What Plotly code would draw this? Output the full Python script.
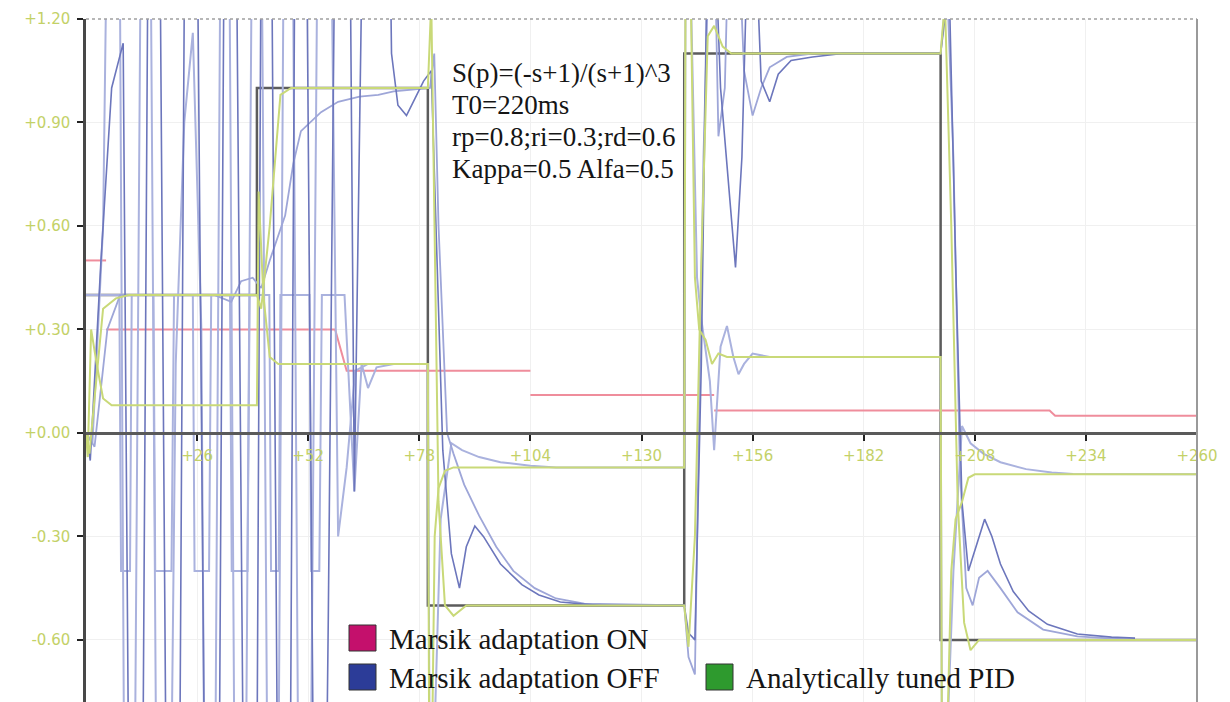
import plotly.graph_objects as go

# ---------------- data ----------------
tick_x = [26, 52, 78, 104, 130, 156, 182, 208, 234, 260]
tick_x_text = ["+26", "+52", "+78", "+104", "+130", "+156", "+182", "+208", "+234", "+260"]
tick_y = [1.2, 0.9, 0.6, 0.3, 0.0, -0.3, -0.6]
tick_y_text = ["+1.20", "+0.90", "+0.60", "+0.30", "+0.00", "-0.30", "-0.60"]

# set point w
w_x = [0, 40, 40, 80, 80, 140, 140, 200, 200, 260]
w_y = [0.4, 0.4, 1.0, 1.0, -0.5, -0.5, 1.1, 1.1, -0.6, -0.6]

# analytically tuned PID - output
pid_y_x = [0, 0.8, 2, 4, 7, 10, 40, 41, 43, 45.5, 48, 80, 80.8, 81.5, 82.5, 84, 86, 89,
           140, 141, 142.5, 144, 145.5, 147, 149, 151, 200, 201, 202.5, 204, 205.5, 207, 209, 260]
pid_y_y = [0, -0.06, 0.1, 0.36, 0.39, 0.4, 0.4, 0.36, 0.6, 0.98, 1.0, 1.0, 1.25, 0.6, -0.2, -0.5, -0.53, -0.5,
           -0.5, -0.62, -0.3, 0.5, 1.15, 1.18, 1.12, 1.1, 1.1, 1.25, 0.6, -0.2, -0.55, -0.63, -0.6, -0.6]

# analytically tuned PID - control signal
pid_u_x = [0, 0.4, 1.2, 2.5, 4, 6, 40, 40.4, 41.5, 43, 45, 80, 80.3, 81, 81.6, 82.5, 84, 86,
           140, 140.3, 141.5, 142.5, 143.5, 145, 146.5, 148, 150, 200, 200.3, 201.5, 202.5, 203.5, 205, 206.5, 208, 260]
pid_u_y = [0, -0.07, 0.3, 0.2, 0.1, 0.08, 0.08, 0.7, 0.4, 0.22, 0.2, 0.2, -0.9, -0.9, -0.3, -0.16, -0.11, -0.1,
           -0.1, 1.3, 1.3, 0.45, 0.3, 0.27, 0.2, 0.23, 0.22, 0.22, -0.9, -0.9, -0.4, -0.25, -0.2, -0.13, -0.12, -0.12]

# adaptive controller parameter (pink steps)
par_x = [0, 4.7, None, 4.7, 58.3, 61, 104, None, 104, 147, None, 147, 225.5, 226.8, 260]
par_y = [0.5, 0.5, None, 0.3, 0.3, 0.18, 0.18, None, 0.11, 0.11, None, 0.065, 0.065, 0.05, 0.05]

# Marsik adaptation OFF - output (medium blue, oscillating far beyond the visible range)
off_y_x = [0, 1, 3.5, 6, 8.7, 11.8, 15.8, 20.5, 24.3, 29.8, 33.5, 38.8, 42, 46.5, 50, 54.5, 56.7, 60.2,
           62.8, 66.5, 69.5, 71.5, 73, 75, 77, 79, 80.8, 82, 83.5, 85.5, 87.4, 89, 91, 93, 97, 102, 106, 111,
           120, 140, 141, 142.5, 144, 145.5, 147, 148.5, 150.5, 152, 153.5, 155, 156.5, 158, 160, 162, 165,
           170, 177, 200, 201, 202, 203.5, 205, 206.5, 208, 210.3, 212, 214, 217, 220.6, 225, 232, 240, 245.5]
off_y_y = [0, -0.08, 0.5, 1.0, 1.13, -4.0, 4.0, -4.0, 4.0, -4.0, 4.0, -4.0, 4.0, -4.0, 4.0, -3.0, -0.54, 4.0,
           -0.17, 3.0, 3.0, 1.1, 0.95, 0.92, 0.97, 1.02, 1.05, 0.55, -0.05, -0.35, -0.45, -0.33, -0.27, -0.3,
           -0.38, -0.44, -0.47, -0.49, -0.5, -0.5, -0.58, -0.6, 0.2, 1.5, 1.5, 1.0, 0.7, 0.48, 0.8, 1.5, 1.5,
           1.02, 0.96, 1.04, 1.08, 1.09, 1.1, 1.1, 1.2, 1.3, 0.5, -0.2, -0.4, -0.34, -0.25, -0.3, -0.38, -0.46,
           -0.516, -0.555, -0.583, -0.592, -0.595]

# Marsik adaptation - second oscillating output (lavender)
osc_x = [0, 1.5, 4, 7, 10, 14, 17.8, 21, 23, 25, 27, 29, 32.5, 36, 40, 43.8, 47.3, 51, 55.5, 59, 61, 63, 66]
osc_y = [0, -0.03, 0.6, 3.5, -3.5, 3.5, -3.5, 0.2, 0.9, 1.16, 0.3, -3.5, 3.5, -3.5, 3.5, -3.5, 3.5, -3.5, 3.5,
         -0.3, -0.1, 0.18, 0.2]

# Marsik adaptation ON - output (lavender, smooth)
on_y_x = [0, 2, 5, 8, 30, 34, 36.3, 39, 41, 43, 46.6, 48.5, 50.3, 55, 59, 64, 68.4, 72, 80.5, 81.5, 82.5, 84.5,
          86, 88.5, 92, 96, 100, 105, 110, 116.6, 140, 141, 142.5, 144.5, 146, 147, 148, 149.5, 150.5, 152.5,
          154, 156, 158, 160, 164, 170, 200, 201.5, 203, 204.5, 206, 207.5, 209, 211, 214, 218, 224, 232, 245]
on_y_y = [0, -0.04, 0.3, 0.4, 0.4, 0.38, 0.44, 0.45, 0.42, 0.5, 0.63, 0.78, 0.875, 0.93, 0.96, 0.975, 0.98, 0.99,
          1.0, 1.1, 0.6, 0.0, -0.06, -0.15, -0.24, -0.33, -0.4, -0.45, -0.48, -0.495, -0.5, -0.65, -0.7, 0.8,
          1.5, 1.5, 0.86, 1.0, 1.5, 1.5, 1.05, 0.92, 1.0, 1.06, 1.09, 1.1, 1.1, 1.3, 0.8, -0.1, -0.45, -0.5,
          -0.42, -0.4, -0.45, -0.52, -0.57, -0.59, -0.6]

# adaptive control signal (lavender, saturated square wave at start)
u_ad_x = [0, 7.8, 8.2, 10.3, 10.7, 15.8, 16.2, 20, 20.6, 25, 25.4, 28.8, 29.3, 33.7, 34.1, 37.8, 38.3, 42.9,
          43.3, 45.1, 45.5, 52.3, 52.7, 54.6, 55.2, 60.5, 62.8, 64.5, 66, 68, 72, 80, 80.4, 81.5, 83, 85.5, 88,
          92, 97, 104, 110, 140, 140.3, 141.5, 143, 144, 146, 147, 148.5, 150, 151.5, 152.7, 154, 156, 160,
          200, 200.3, 201.5, 203, 205, 207, 210, 214, 220, 226, 231, 260]
u_ad_y = [0.4, 0.4, -0.4, -0.4, 0.4, 0.4, -0.4, -0.4, 0.4, 0.4, -0.4, -0.4, 0.4, 0.4, -0.4, -0.4, 0.4, 0.4,
          -0.4, -0.4, 0.4, 0.4, -0.4, -0.4, 0.4, 0.4, -0.17, 0.2, 0.13, 0.19, 0.2, 0.2, -0.9, -0.9, -0.25,
          -0.03, -0.05, -0.07, -0.085, -0.095, -0.1, -0.1, 1.3, 1.3, 0.45, 0.33, 0.15, -0.05, 0.25, 0.31, 0.22,
          0.17, 0.2, 0.23, 0.22, 0.22, -0.9, -0.9, -0.4, 0.02, -0.03, -0.06, -0.085, -0.105, -0.115, -0.119, -0.12]

legend_names = ["Marsik adaptation ON", "Marsik adaptation OFF", "Analytically tuned PID"]
legend_colors = ["#c4106c", "#2c3c98", "#2e9a2e"]

info_lines = ["S(p)=(-s+1)/(s+1)^3", "T0=220ms", "rp=0.8;ri=0.3;rd=0.6", "Kappa=0.5 Alfa=0.5"]

# ---------------- figure ----------------
Y_MIN, Y_MAX = -0.783, 1.2
GREEN = "#c9d978"
LAV = "#aab2de"
BLUE = "#6c76bc"

# page has a small default body margin; compensate so the plot lands where the reference has it
OFF = 7
FIG_W, FIG_H = 1230 - OFF, 702 - OFF
M_L, M_T = 85 - OFF, 18 - OFF
M_R = FIG_W - (1196 - OFF)
M_B = 0

fig = go.Figure()

def add(x, y, color, width):
    fig.add_trace(go.Scatter(x=x, y=y, mode="lines", line=dict(color=color, width=width),
                             showlegend=False, hoverinfo="skip", connectgaps=False))

add(w_x, w_y, "#5c5c5c", 2.5)
add(par_x, par_y, "#ef8d9c", 2)
add(u_ad_x, u_ad_y, LAV, 2)
add(osc_x, osc_y, LAV, 2)
add(on_y_x, on_y_y, "#9ea6d8", 1.8)
add(off_y_x, off_y_y, BLUE, 1.6)
add(pid_u_x, pid_u_y, GREEN, 2)
add(pid_y_x, pid_y_y, GREEN, 2)

tick_font = dict(family="DejaVu Sans", size=15, color="#c3d167")

fig.update_layout(
    width=FIG_W, height=FIG_H,
    margin=dict(l=M_L, r=M_R, t=M_T, b=M_B, autoexpand=False),
    paper_bgcolor="white", plot_bgcolor="white",
    showlegend=False,
    xaxis=dict(range=[0, 260], tickvals=tick_x, ticktext=tick_x_text, tickfont=tick_font,
               anchor="free", position=(0 - Y_MIN) / (Y_MAX - Y_MIN),
               showline=True, linecolor="#5a5a5a", linewidth=2.5,
               ticks="outside", ticklen=6, tickwidth=2, tickcolor="#222", ticklabelstandoff=2,
               showgrid=True, gridcolor="#f0f0f0", gridwidth=1, zeroline=False),
    yaxis=dict(range=[Y_MIN, Y_MAX], tickvals=tick_y, ticktext=tick_y_text, tickfont=tick_font,
               showline=True, linecolor="#484848", linewidth=2.5,
               ticks="outside", ticklen=6, tickwidth=2, tickcolor="#222", ticklabelstandoff=4,
               showgrid=True, gridcolor="#f0f0f0", gridwidth=1, zeroline=False),
)

# frame: dotted top, solid right
fig.add_shape(type="line", xref="paper", yref="paper", x0=0, x1=1, y0=1, y1=1,
              line=dict(color="#a0a0a0", width=1.5, dash="dot"))
fig.add_shape(type="line", xref="paper", yref="paper", x0=1, x1=1, y0=0, y1=1,
              line=dict(color="#9a9a9a", width=2))

# info text (positions given in page pixels of the reference)
PLOT_W = FIG_W - M_L - M_R
PLOT_H = FIG_H - M_T - M_B
def px_to_paper(px, py):
    return (px - 85) / PLOT_W, 1 - (py - 18) / PLOT_H

for i, line in enumerate(info_lines):
    xp, yp = px_to_paper(449, 72 + i * 32)
    fig.add_annotation(x=xp, y=yp, xref="paper", yref="paper", text=line, showarrow=False,
                       xanchor="left", yanchor="middle",
                       font=dict(family="Liberation Serif", size=27, color="#151515"))

# legend (custom layout)
legend_pos = [(348, 637), (348, 676), (705, 676)]
for name, col, (lx, ly) in zip(legend_names, legend_colors, legend_pos):
    x0, y0 = px_to_paper(lx, ly - 13)
    x1, y1 = px_to_paper(lx + 27, ly + 13)
    fig.add_shape(type="rect", xref="paper", yref="paper", x0=x0, x1=x1, y0=y1, y1=y0,
                  fillcolor=col, line=dict(color="#333", width=1))
    tx, ty = px_to_paper(lx + 38, ly + 1)
    fig.add_annotation(x=tx, y=ty, xref="paper", yref="paper", text=name, showarrow=False,
                       xanchor="left", yanchor="middle",
                       font=dict(family="Liberation Serif", size=29, color="#151515"))

fig.write_html("out.html")
